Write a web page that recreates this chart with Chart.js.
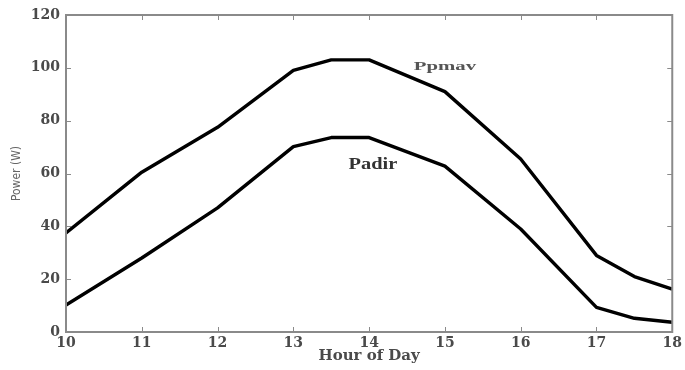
<!DOCTYPE html>
<html>
<head>
<meta charset="utf-8">
<script src="https://cdn.jsdelivr.net/npm/chart.js@4/dist/chart.umd.min.js"></script>
<style>
  html, body { margin: 0; padding: 0; background: #fff; }
  #wrap { width: 685px; height: 370px; }
</style>
</head>
<body>
<div id="wrap"><canvas id="powerChart"></canvas></div>
<script>
// hours of the day and readings
const hours = [10, 11, 12, 13, 13.5, 14, 15, 16, 17, 17.5, 18]
const ppmav = [37.5, 60.5, 77.5, 99, 103, 103, 91, 65.5, 29, 21, 16.2]
const padir = [10.2, 28, 47, 70.2, 73.6, 73.6, 62.8, 39, 9.3, 5.2, 3.7]
const xTicks = [10, 11, 12, 13, 14, 15, 16, 17, 18]
const yTicks = [0, 20, 40, 60, 80, 100, 120]

const toPoints = (ys) => hours.map((h, i) => ({ x: h, y: ys[i] }))

const frameColor = '#8a8a8a'
const labelColor = '#4a4a4a'

// box around the plot + MATLAB style ticks pointing inside
const boxPlugin = {
    id: 'box',
    afterDraw(chart) {
        const { ctx, chartArea: a, scales } = chart
        ctx.save()
        ctx.strokeStyle = frameColor
        ctx.lineWidth = 2
        ctx.strokeRect(a.left, a.top, a.right - a.left, a.bottom - a.top)
        ctx.lineWidth = 1
        ctx.beginPath()
        xTicks.forEach(v => {
            const px = Math.round(scales.x.getPixelForValue(v)) + 0.5
            ctx.moveTo(px, a.bottom); ctx.lineTo(px, a.bottom - 5)
            ctx.moveTo(px, a.top); ctx.lineTo(px, a.top + 5)
        })
        yTicks.forEach(v => {
            const py = Math.round(scales.y.getPixelForValue(v)) + 0.5
            ctx.moveTo(a.left, py); ctx.lineTo(a.left + 5, py)
            ctx.moveTo(a.right, py); ctx.lineTo(a.right - 5, py)
        })
        ctx.stroke()

        // curve names
        const note = (txt, x, y, size, sx, color) => {
            ctx.save()
            ctx.translate(scales.x.getPixelForValue(x), scales.y.getPixelForValue(y))
            ctx.scale(sx, 1)
            ctx.font = 'bold ' + size + 'px "Liberation Serif"'
            ctx.fillStyle = color
            ctx.textAlign = 'center'
            ctx.textBaseline = 'middle'
            ctx.fillText(txt, 0, 0)
            ctx.restore()
        }
        note('Ppmav', 15.0, 100.6, 13, 1.6, '#555')
        note('Padir', 14.05, 63.3, 17, 1.2, '#333')
        ctx.restore()
    }
}

const ctx = document.getElementById('powerChart').getContext('2d')
new Chart(ctx, {
    type: 'line',
    data: {
        datasets: [
            { label: 'Ppmav', data: toPoints(ppmav) },
            { label: 'Padir', data: toPoints(padir) }
        ]
    },
    options: {
        responsive: true,
        maintainAspectRatio: false,
        animation: false,
        layout: { padding: { left: 0, right: 1, top: 15, bottom: 0 } },
        elements: {
            line: { borderColor: '#000', borderWidth: 3.4, tension: 0, borderJoinStyle: 'round' },
            point: { radius: 0 }
        },
        plugins: {
            legend: { display: false },
            tooltip: { enabled: false }
        },
        scales: {
            x: {
                type: 'linear',
                min: 10,
                max: 18,
                afterBuildTicks: (s) => { s.ticks = xTicks.map(v => ({ value: v })) },
                afterFit: (s) => { s.height = 38 },
                grid: { display: false, drawTicks: false },
                border: { display: false },
                ticks: {
                    color: labelColor,
                    padding: 3,
                    font: { family: 'DejaVu Serif', size: 14, weight: 'bold' }
                },
                title: {
                    display: true,
                    text: 'Hour of Day',
                    color: labelColor,
                    padding: { top: 0, bottom: 5 },
                    font: { family: 'DejaVu Serif', size: 15, weight: 'bold' }
                }
            },
            y: {
                min: 0,
                max: 120,
                afterBuildTicks: (s) => { s.ticks = yTicks.map(v => ({ value: v })) },
                afterFit: (s) => { s.width = 66 },
                grid: { display: false, drawTicks: false },
                border: { display: false },
                ticks: {
                    color: labelColor,
                    padding: 6,
                    font: { family: 'DejaVu Serif', size: 14, weight: 'bold' }
                },
                title: {
                    display: true,
                    text: 'Power (W)',
                    color: '#666',
                    padding: { top: 10, bottom: 0 },
                    font: { family: 'DejaVu Sans Condensed', size: 12 }
                }
            }
        }
    },
    plugins: [boxPlugin]
})
</script>
</body>
</html>
